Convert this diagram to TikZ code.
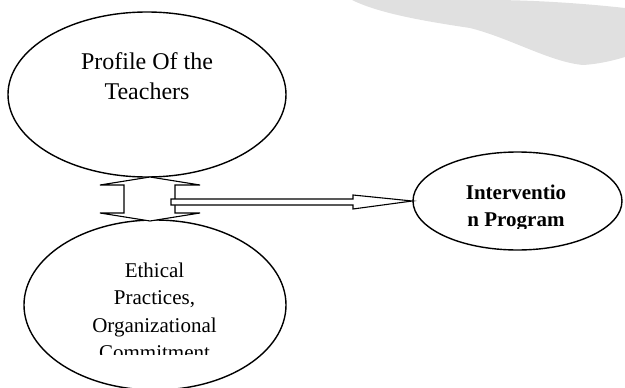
\documentclass[tikz,border=0pt]{standalone}
\usepackage{fontspec}
\setmainfont{Liberation Serif}
\usetikzlibrary{shapes.geometric}
\definecolor{swoosh}{RGB}{224,224,224}
\tikzset{
  bubble/.style={draw, ellipse, line width=1.4pt, inner sep=0pt},
  blockarrow/.style={draw, fill=white, line width=1.1pt, line join=miter},
}
\begin{document}
\begin{tikzpicture}[x=1pt,y=-1pt]
\useasboundingbox (0,0) rectangle (625,388);
%\fill[gray!10] (0,0) rectangle (625,388);
\fill[swoosh] (352,0) .. controls (380,14) and (430,22) .. (470,28)
  .. controls (510,38) and (550,62) .. (583,65)
  .. controls (600,64) and (615,60) .. (625,57) -- (625,8)
  .. controls (580,3) and (530,0) .. (490,0) -- cycle;
\node[bubble, minimum width=278pt, minimum height=165pt] (profile) at (147,94.5) {};
\node[bubble, minimum width=262pt, minimum height=170pt] (ethics) at (155,305) {};
\node[bubble, minimum width=209pt, minimum height=98pt] (program) at (517.5,201) {};
% base anchor sits on the last line
\node[font=\fontsize{24}{30}\selectfont, align=center, anchor=base] (profiletext) at (147,99) {Profile Of the\\Teachers};
\begin{scope}
\clip (20,240) rectangle (290,354);
\node[font=\fontsize{21}{27.5}\selectfont, align=center, anchor=base] (ethicstext) at (154.5,359.5) {Ethical\\Practices,\\Organizational\\Commitment};
\end{scope}
\begin{scope}
\clip (420,170) rectangle (615,228);
\node[font=\bfseries\fontsize{21}{27}\selectfont, align=center, anchor=base] (programtext) at (516,226) {Interventio\\n Program};
\end{scope}
% up-down arrow between the two
\draw[blockarrow] (150,177) -- (200,185) -- (175,185) -- (175,213) -- (200,213) -- (150,221)
  -- (100,213) -- (124,213) -- (124,185) -- (100,185) -- cycle;
\draw[blockarrow] (171,199) -- (353,199) -- (353,195) -- (program.west) -- (353,209)
  -- (353,205) -- (171,205) -- cycle;
\end{tikzpicture}
\end{document}
